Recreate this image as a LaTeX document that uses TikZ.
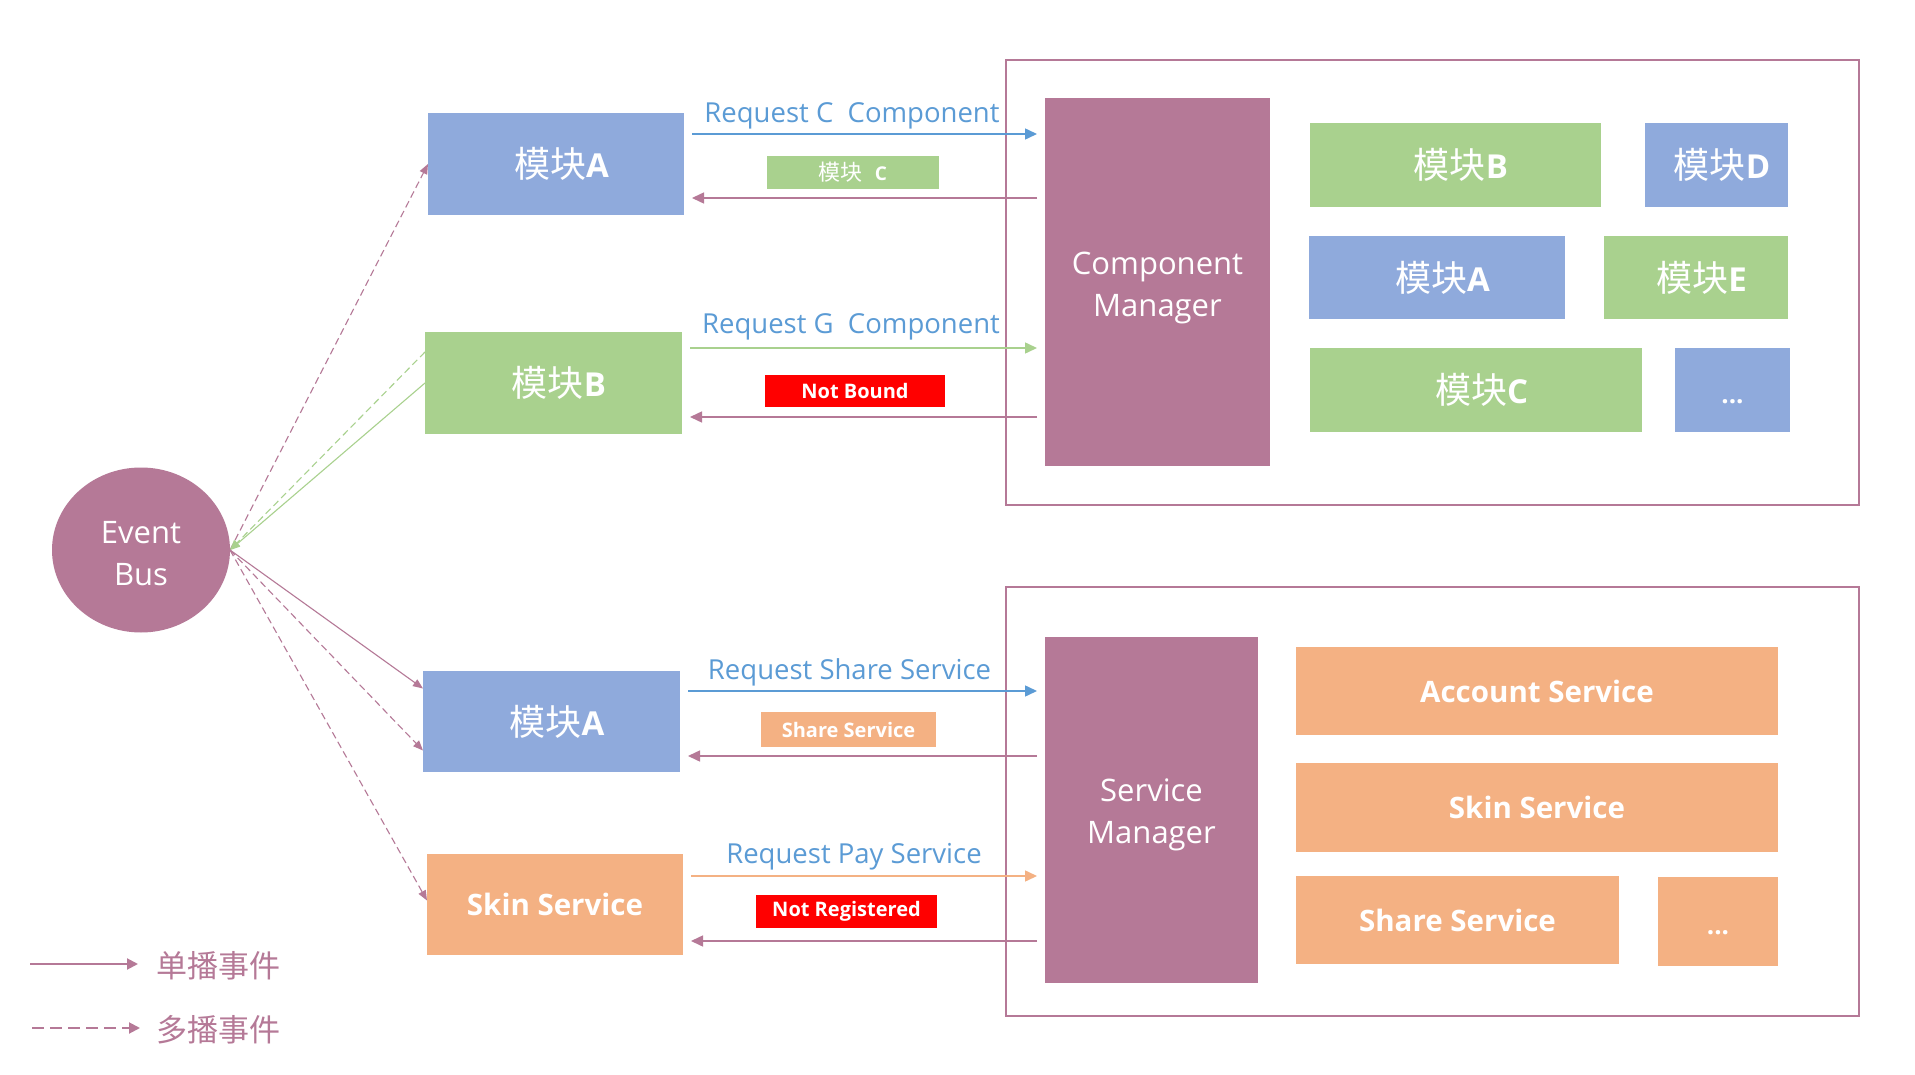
\documentclass[tikz,border=0pt]{standalone}
\usepackage{fontspec}
\setmainfont{Open Sans}
\newfontfamily\cjk{Noto Sans CJK SC}
\usetikzlibrary{arrows.meta,calc,shapes.geometric}
\definecolor{cblue}{RGB}{143,170,220}
\definecolor{cgreen}{RGB}{169,209,142}
\definecolor{corange}{RGB}{244,177,131}
\definecolor{cmauve}{RGB}{181,121,151}
\definecolor{ctext}{RGB}{91,155,213}
\definecolor{cred}{RGB}{255,0,0}
\newcommand\fbig{\fontsize{31}{42}\selectfont}
\newcommand\fsrv{\fontsize{29.5}{36}\selectfont}
\newcommand\freq{\fontsize{27.5}{33}\selectfont}
\newcommand\fsmall{\fontsize{20}{24}\selectfont}
\newcommand\mk[1]{\hspace*{11pt}{\cjk\fontsize{36}{42}\selectfont 模块}{\fontsize{33}{42}\selectfont\bfseries #1}}
\newcommand\dn[1]{\rule{0pt}{#1}}
\tikzset{
  box/.style={inner sep=0pt, outer sep=0pt, text=white, align=center, font=\fbig},
  dots/.style={text height=30pt, text depth=4pt, font=\fontsize{26}{30}\selectfont\bfseries},
  tag/.style={inner sep=0pt, outer sep=0pt, text=white, align=center, font=\fsmall},
  grp/.style={draw=cmauve, line width=2.5pt, inner sep=0pt, outer sep=0pt},
  reqtext/.style={text=ctext, font=\freq, inner sep=0pt},
  harr/.style={-{Triangle[length=12pt,width=11pt]}, line width=1.5pt, shorten <=8pt, shorten >=8pt},
  ebarr/.style={-{Triangle[length=10pt,width=8pt]}, line width=1.1pt},
  ebdash/.style={dash pattern=on 7pt off 4pt},
  legarr/.style={-{Triangle[length=11pt,width=11pt]}, line width=2pt, draw=cmauve},
  legtext/.style={text=cmauve, font={\cjk\fontsize{31}{36}\selectfont}, inner sep=0pt, anchor=west}
}
\begin{document}
\begin{tikzpicture}[x=1pt,y=-1pt]
\useasboundingbox (0,0) rectangle (1915,1075);
\fill[white] (0,0) rectangle (1915,1075);

% group frames
\node[grp, minimum width=853, minimum height=445] (grp1) at (1432.5,282.5) {};
\node[grp, minimum width=853, minimum height=429] (grp2) at (1432.5,801.5) {};

% event bus
\node[box, ellipse, fill=cmauve, minimum width=178, minimum height=165] (EB) at (141,550) {\dn{29pt}Event\\Bus};

% left modules
\node[box, fill=cblue, minimum width=256, minimum height=102] (A1) at (556,164) {\mk{A}};
\node[box, fill=cgreen, minimum width=257, minimum height=102] (B1) at (553.5,383) {\mk{B}};
\node[box, fill=cblue, minimum width=257, minimum height=101] (A2) at (551.5,721.5) {\mk{A}};
\node[box, fill=corange, minimum width=256, minimum height=101, font=\fsrv] (SkinL) at (555,904.5) {\textbf{Skin Service}};

% managers
\node[box, fill=cmauve, minimum width=225, minimum height=368] (CM) at (1157.5,282) {\dn{33.5pt}Component\\Manager};
\node[box, fill=cmauve, minimum width=213, minimum height=346] (SM) at (1151.5,810) {\dn{33pt}Service\\Manager};

% modules inside component group
\node[box, fill=cgreen, minimum width=291, minimum height=84] (mB) at (1455.5,165) {\mk{B}};
\node[box, fill=cblue, minimum width=143, minimum height=84] (mD) at (1716.5,165) {\mk{D}};
\node[box, fill=cblue, minimum width=256, minimum height=83] (mA) at (1437,277.5) {\mk{A}};
\node[box, fill=cgreen, minimum width=184, minimum height=83] (mE) at (1696,277.5) {\mk{E}};
\node[box, fill=cgreen, minimum width=332, minimum height=84] (mC) at (1476,390) {\mk{C}};
\node[box, dots, fill=cblue, minimum width=115, minimum height=84] (mX) at (1732.5,390) {...};

% services inside service group
\node[box, fill=corange, minimum width=482, minimum height=88, font=\fsrv] (sAcc) at (1537,691) {\textbf{Account Service}};
\node[box, fill=corange, minimum width=482, minimum height=89, font=\fsrv] (sSkin) at (1537,807.5) {\textbf{Skin Service}};
\node[box, fill=corange, minimum width=323, minimum height=88, font=\fsrv] (sShare) at (1457.5,920) {\textbf{Share Service}};
\node[box, dots, fill=corange, minimum width=120, minimum height=89] (sX) at (1718,921.5) {...};

% request labels
\node[reqtext] (rqC) at (852,115.5) {Request C\ \ Component};
\node[reqtext] (rqG) at (851,326.5) {Request G\ \ Component};
\node[reqtext] (rqS) at (849.5,672.5) {Request Share Service};
\node[reqtext] (rqP) at (854,856.5) {Request Pay Service};

% reply tags
\node[tag, fill=cgreen, minimum width=172, minimum height=33] (tC) at (853,172.5) {{\cjk\fontsize{22}{26}\selectfont 模块}\hspace{12pt}{\fontsize{19}{24}\selectfont\bfseries C}};
\node[tag, fill=cred, minimum width=180, minimum height=32] (tNB) at (855,391) {\textbf{Not Bound}};
\node[tag, fill=corange, minimum width=175, minimum height=35] (tSS) at (848.5,729.5) {\textbf{Share Service}};
\node[tag, fill=cred, minimum width=181, minimum height=33] (tNR) at (846.5,911.5) {\textbf{Not Registered}};

% horizontal arrows
\coordinate (h1) at (0,134);
\coordinate (h2) at (0,198);
\coordinate (h3) at (0,348);
\coordinate (h4) at (0,417);
\coordinate (h5) at (0,691);
\coordinate (h6) at (0,756);
\coordinate (h7) at (0,876);
\coordinate (h8) at (0,941);
\draw[harr, ctext] (A1.east |- h1) -- (CM.west |- h1);
\draw[harr, cmauve] (CM.west |- h2) -- (A1.east |- h2);
\draw[harr, cgreen] (B1.east |- h3) -- (CM.west |- h3);
\draw[harr, cmauve] (CM.west |- h4) -- (B1.east |- h4);
\draw[harr, ctext] (A2.east |- h5) -- (SM.west |- h5);
\draw[harr, cmauve] (SM.west |- h6) -- (A2.east |- h6);
\draw[harr, corange] (SkinL.east |- h7) -- (SM.west |- h7);
\draw[harr, cmauve] (SM.west |- h8) -- (SkinL.east |- h8);

% event bus connectors
\draw[ebarr, cmauve, ebdash] (EB.east) -- (A1.west);
\draw[ebarr, cgreen, ebdash] ($(B1.west)+(0,-31)$) -- (EB.east);
\draw[ebarr, cgreen] (B1.west) -- (EB.east);
\draw[ebarr, cmauve] (EB.east) -- ($(A2.west)+(0,-33)$);
\draw[ebarr, cmauve, ebdash] (EB.east) -- ($(A2.west)+(0,29)$);
\draw[ebarr, cmauve, ebdash] (EB.east) -- ($(SkinL.west)+(0,-4)$);

% legend
\coordinate (L1a) at (30,964);
\coordinate (L1b) at (138,964);
\coordinate (L2a) at (32,1028);
\coordinate (L2b) at (140,1028);
\draw[legarr] (L1a) -- (L1b);
\draw[legarr, dash pattern=on 12pt off 6pt] (L2a) -- (L2b);
\node[legtext] (L1t) at (156,966) {单播事件};
\node[legtext] (L2t) at (156,1030) {多播事件};
\end{tikzpicture}
\end{document}
